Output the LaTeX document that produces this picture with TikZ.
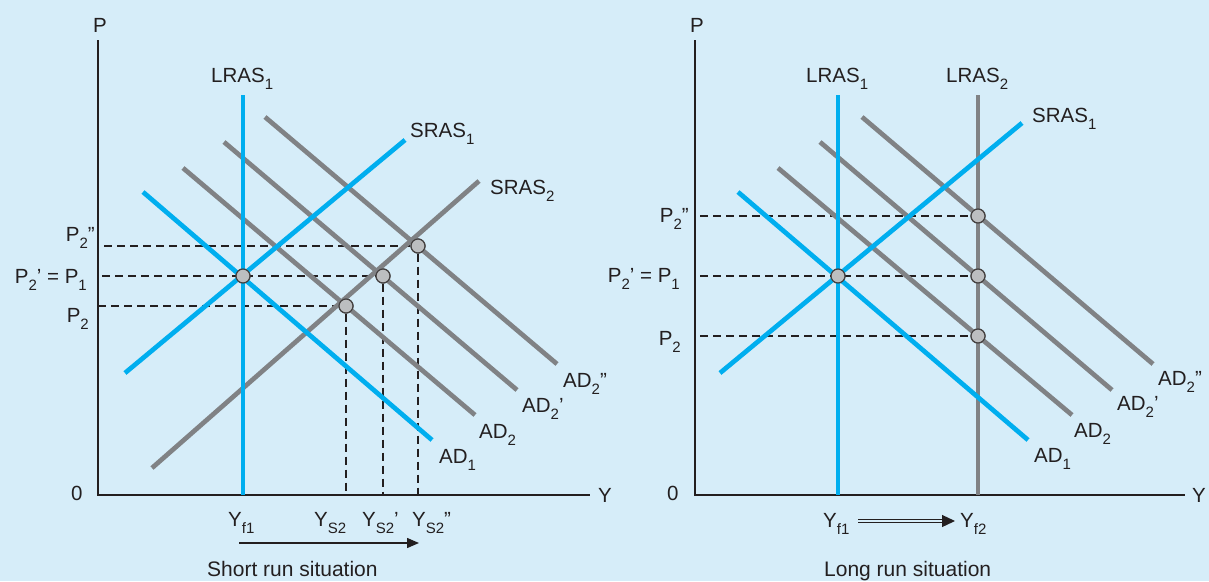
\documentclass[tikz,border=0pt]{standalone}
\usepackage{fontspec}
\setmainfont{Liberation Sans}
\usetikzlibrary{arrows.meta}
\definecolor{bg}{HTML}{D6EDF9}
\definecolor{cblue}{HTML}{00AEEF}
\definecolor{cgray}{HTML}{808285}
\definecolor{txt}{HTML}{231F20}
\definecolor{dotfill}{HTML}{BCBEC0}
\newcommand{\lsub}[1]{\raisebox{-0.36em}{\fontsize{15}{15}\selectfont #1}}
\begin{document}
\begin{tikzpicture}[x=1pt,y=-1pt,
  every node/.style={font=\fontsize{20.5}{22}\selectfont, text=txt, inner sep=0pt},
  lbl/.style={anchor=base west},
  rlbl/.style={anchor=base east},
  captiontext/.style={anchor=base west, font=\fontsize{21}{24}\selectfont},
  axis/.style={draw=txt, line width=1.3pt},
  blueline/.style={draw=cblue, line width=4.7pt},
  grayline/.style={draw=cgray, line width=4.7pt},
  guide/.style={draw=txt, line width=1.1pt, dash pattern=on 8pt off 5pt},
  dot/.style={circle, draw=txt!85, line width=1.2pt, fill=dotfill, minimum size=14pt, inner sep=0pt},
  arr/.style={draw=txt, line width=1.4pt, -{Triangle[length=12pt,width=10pt]}},
  dblarr/.style={draw=txt, line width=1.2pt, double=bg, double distance=2.4pt, -{Triangle[length=13pt,width=12pt]}}
]
\useasboundingbox (0,0) rectangle (1209,581);
\fill[bg] (0,0) rectangle (1209,581);

%% ---------------- LEFT PANEL ----------------
\coordinate (lo) at (98,495);
\coordinate (ltop) at (98,40);
\coordinate (lright) at (590,495);
\draw[axis] (ltop) -- (lo) -- (lright);
\node[lbl] (lP) at (93,32) {P};
\node[lbl] (lY) at (598,502) {Y};
\node[lbl] (l0) at (71,500) {0};

\node[dot] (le1) at (243,276) {};
\node[dot] (la) at (346,306) {};
\node[dot] (lb) at (383,276) {};
\node[dot] (lc) at (418,246) {};

\coordinate (lfa) at (346,495);
\coordinate (lfb) at (383,495);
\coordinate (lfc) at (418,495);
\coordinate (lpa) at (98,306);
\coordinate (lpb) at (102,276);
\coordinate (lpc) at (104,246);

\draw[guide] (lpc) -- (lc);
\draw[guide] (lpb) -- (lb);
\draw[guide] (lpa) -- (la);
\draw[guide] (la) -- (lfa);
\draw[guide] (lb) -- (lfb);
\draw[guide] (lc) -- (lfc);

\coordinate (ls2a) at (152,468); \coordinate (ls2b) at (479,181);
\coordinate (lad2a) at (183,168); \coordinate (lad2b) at (475,415);
\coordinate (lad2pa) at (224,142); \coordinate (lad2pb) at (517,390);
\coordinate (lad2ppa) at (265,117); \coordinate (lad2ppb) at (557,364);
\draw[grayline] (lad2a) -- (lad2b);
\draw[grayline] (lad2pa) -- (lad2pb);
\draw[grayline] (lad2ppa) -- (lad2ppb);
\draw[grayline] (ls2a) -- (ls2b);

\coordinate (llr1a) at (243,95); \coordinate (llr1b) at (243,495);
\coordinate (ls1a) at (125,373); \coordinate (ls1b) at (405,140);
\coordinate (lad1a) at (143,192); \coordinate (lad1b) at (432,440);
\draw[blueline] (ls1a) -- (ls1b);
\draw[blueline] (lad1a) -- (lad1b);
\draw[blueline] (llr1a) -- (llr1b);

\node[dot] at (le1) {};
\node[dot] at (la) {};
\node[dot] at (lb) {};
\node[dot] at (lc) {};

\node[lbl] (tllr1) at (211,82) {LRAS\lsub{1}};
\node[lbl] (tls1) at (410,137) {SRAS\lsub{1}};
\node[lbl] (tls2) at (490,194) {SRAS\lsub{2}};
\node[lbl] (tlad1) at (439,463) {AD\lsub{1}};
\node[lbl] (tlad2) at (479,438) {AD\lsub{2}};
\node[lbl] (tlad2p) at (522,412) {AD\lsub{2}’};
\node[lbl] (tlad2pp) at (563,387) {AD\lsub{2}”};
\node[rlbl] (tlp2pp) at (95,241) {P\lsub{2}”};
\node[rlbl] (tlp1) at (87,283) {P\lsub{2}’ = P\lsub{1}};
\node[rlbl] (tlp2) at (89,322) {P\lsub{2}};
\node[lbl] (tlyf1) at (228,526) {Y\lsub{f1}};
\node[lbl] (tlys2) at (314,526) {Y\lsub{S2}};
\node[lbl] (tlys2p) at (362,526) {Y\lsub{S2}’};
\node[lbl] (tlys2pp) at (412,526) {Y\lsub{S2}”};
\coordinate (sarrA) at (239,543);
\coordinate (sarrB) at (419,543);
\draw[arr] (sarrA) -- (sarrB);
\node[captiontext] (tshort) at (207,576) {Short run situation};

%% ---------------- RIGHT PANEL ----------------
\coordinate (ro) at (695,495);
\coordinate (rtop) at (695,40);
\coordinate (rright) at (1185,495);
\draw[axis] (rtop) -- (ro) -- (rright);
\node[lbl] (rP) at (690,32) {P};
\node[lbl] (rY) at (1192,502) {Y};
\node[lbl] (r0) at (667,500) {0};

\node[dot] (re1) at (838,276) {};
\node[dot] (ra) at (978,336) {};
\node[dot] (rb) at (978,276) {};
\node[dot] (rc) at (978,216) {};

\coordinate (rpa) at (700,336);
\coordinate (rpb) at (700,276);
\coordinate (rpc) at (700,216);
\draw[guide] (rpc) -- (rc);
\draw[guide] (rpb) -- (rb);
\draw[guide] (rpa) -- (ra);

\coordinate (rlr2a) at (978,95); \coordinate (rlr2b) at (978,495);
\coordinate (rad2a) at (778,168); \coordinate (rad2b) at (1072,415);
\coordinate (rad2pa) at (820,142); \coordinate (rad2pb) at (1112,390);
\coordinate (rad2ppa) at (862,117); \coordinate (rad2ppb) at (1153,364);
\draw[grayline] (rad2a) -- (rad2b);
\draw[grayline] (rad2pa) -- (rad2pb);
\draw[grayline] (rad2ppa) -- (rad2ppb);
\draw[grayline] (rlr2a) -- (rlr2b);

\coordinate (rlr1a) at (838,95); \coordinate (rlr1b) at (838,495);
\coordinate (rs1a) at (720,373); \coordinate (rs1b) at (1022,123);
\coordinate (rad1a) at (738,192); \coordinate (rad1b) at (1028,440);
\draw[blueline] (rs1a) -- (rs1b);
\draw[blueline] (rad1a) -- (rad1b);
\draw[blueline] (rlr1a) -- (rlr1b);

\node[dot] at (re1) {};
\node[dot] at (ra) {};
\node[dot] at (rb) {};
\node[dot] at (rc) {};

\node[lbl] (trlr1) at (806,82) {LRAS\lsub{1}};
\node[lbl] (trlr2) at (946,82) {LRAS\lsub{2}};
\node[lbl] (trs1) at (1032,122) {SRAS\lsub{1}};
\node[lbl] (trad1) at (1034,462) {AD\lsub{1}};
\node[lbl] (trad2) at (1074,437) {AD\lsub{2}};
\node[lbl] (trad2p) at (1117,410) {AD\lsub{2}’};
\node[lbl] (trad2pp) at (1158,385) {AD\lsub{2}”};
\node[rlbl] (trp2pp) at (689,222) {P\lsub{2}”};
\node[rlbl] (trp1) at (680,282) {P\lsub{2}’ = P\lsub{1}};
\node[rlbl] (trp2) at (681,345) {P\lsub{2}};
\node[lbl] (tryf1) at (823,527) {Y\lsub{f1}};
\node[lbl] (tryf2) at (960,527) {Y\lsub{f2}};
\coordinate (darrA) at (858,521);
\coordinate (darrB) at (955,521);
\draw[dblarr] (darrA) -- (darrB);
\node[captiontext] (tlong) at (824,576) {Long run situation};
\end{tikzpicture}
\end{document}
